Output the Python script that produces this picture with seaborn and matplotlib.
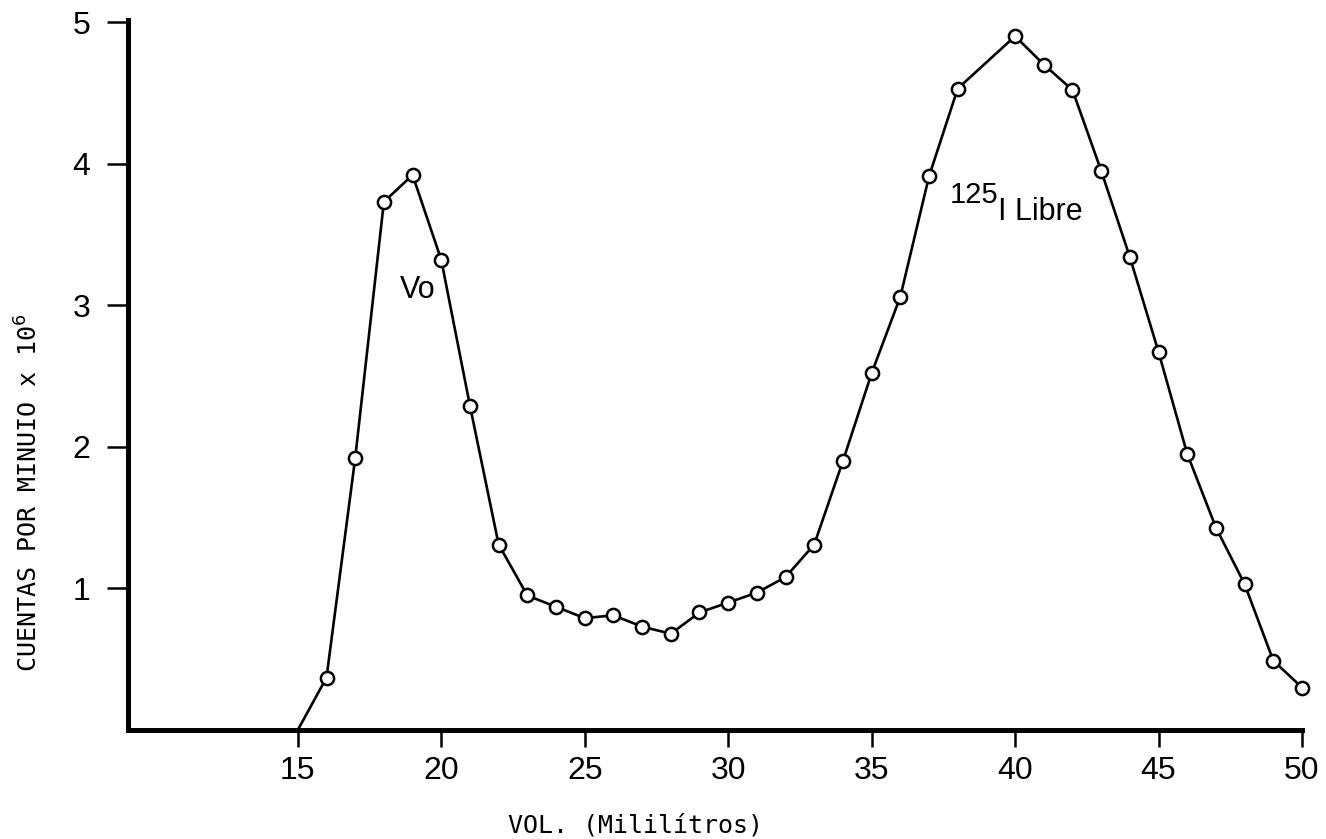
import matplotlib
matplotlib.use("Agg")
import matplotlib.pyplot as plt
import seaborn as sns

# elution profile (no fraction was plotted at 39 ml)
volumen_ml = [15, 16, 17, 18, 19, 20, 21, 22, 23, 24, 25, 26, 27, 28, 29, 30,
              31, 32, 33, 34, 35, 36, 37, 38, 40, 41, 42, 43, 44, 45, 46, 47,
              48, 49, 50]
cuentas = [0.0, 0.37, 1.92, 3.73, 3.92, 3.32, 2.29, 1.31, 0.95, 0.87, 0.79,
           0.81, 0.73, 0.68, 0.83, 0.90, 0.97, 1.08, 1.31, 1.90, 2.52, 3.06,
           3.91, 4.53, 4.90, 4.70, 4.52, 3.95, 3.34, 2.67, 1.95, 1.43, 1.03,
           0.49, 0.30]
x_ticks = [15, 20, 25, 30, 35, 40, 45, 50]
y_ticks = [1, 2, 3, 4, 5]

sns.set_style("ticks", {"axes.edgecolor": "black", "xtick.color": "black",
                        "ytick.color": "black", "text.color": "black"})
plt.rcParams["font.family"] = ["Liberation Sans", "DejaVu Sans"]

fig = plt.figure(figsize=(13.26, 8.39), dpi=100)
ax = fig.add_axes([0.0965, 0.1299, 0.8854, 0.8462])

sns.lineplot(x=volumen_ml, y=cuentas, color="black", linewidth=1.9, ax=ax,
             clip_on=False, zorder=2)
sns.scatterplot(x=volumen_ml[1:], y=cuentas[1:], s=90, facecolor="white",
                edgecolor="black", linewidth=1.8, ax=ax, clip_on=False, zorder=3)

ax.set_xlim(9.08, 50)
ax.set_ylim(0, 5.014)
ax.set_xticks(x_ticks)
ax.set_yticks(y_ticks)
ax.tick_params(axis="x", length=12, width=1.8, pad=7, labelsize=23,
               labelcolor="black")
ax.tick_params(axis="y", length=15, width=1.8, pad=12, labelsize=23,
               labelcolor="black")
sns.despine(ax=ax)
for side in ["left", "bottom"]:
    ax.spines[side].set_linewidth(3.6)
    ax.spines[side].set_color("black")
    ax.spines[side].set_capstyle("projecting")
ax.set_xlabel("")
ax.set_ylabel("")

ax.text(18.55, 3.05, "Vo", fontsize=22)
ax.text(37.72, 3.72, "125", fontsize=21)
ax.text(39.39, 3.6, "I Libre", fontsize=22)

fig.text(29 / 1326, 1 - 493 / 839, "CUENTAS POR MINUIO x 10$^6$", rotation=90,
         ha="center", va="center", fontsize=18, family="DejaVu Sans Mono")
fig.text(635 / 1326, 1 - 826 / 839, "VOL. (Mililítros)", ha="center",
         va="center", fontsize=18, family="DejaVu Sans Mono")

fig.savefig("out.png", dpi=100)
